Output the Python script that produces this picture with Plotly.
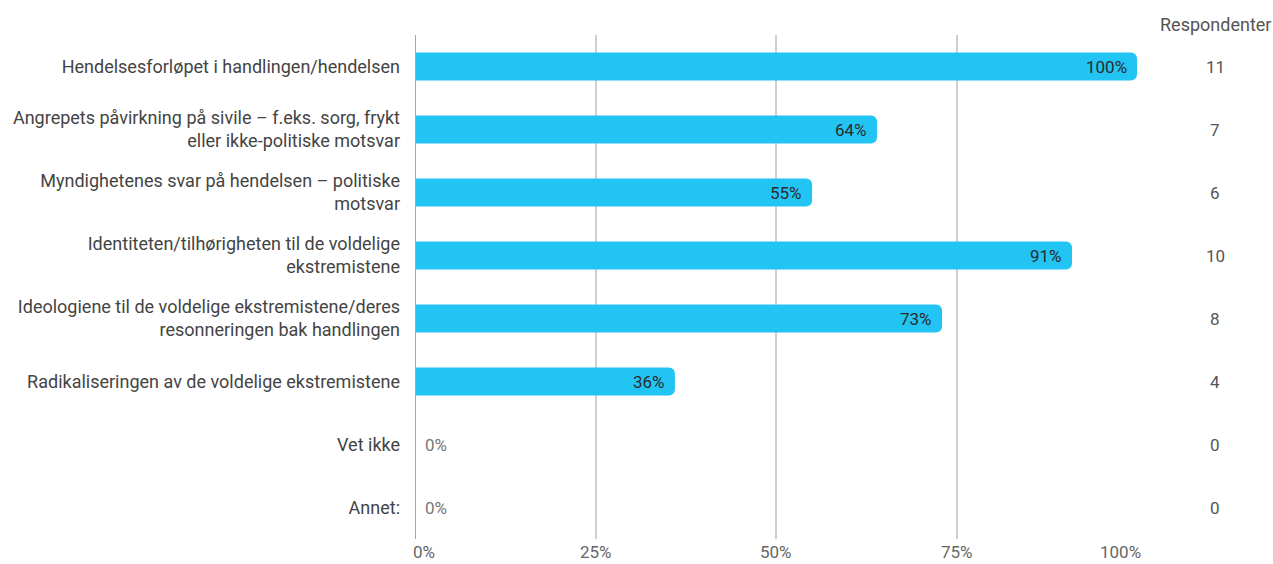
import plotly.graph_objects as go

categories = [
    "Hendelsesforløpet i handlingen/hendelsen",
    "Angrepets påvirkning på sivile – f.eks. sorg, frykt<br>eller ikke-politiske motsvar",
    "Myndighetenes svar på hendelsen – politiske<br>motsvar",
    "Identiteten/tilhørigheten til de voldelige<br>ekstremistene",
    "Ideologiene til de voldelige ekstremistene/deres<br>resonneringen bak handlingen",
    "Radikaliseringen av de voldelige ekstremistene",
    "Vet ikke",
    "Annet:",
]
percent = [100, 64, 55, 91, 73, 36, 0, 0]
respondents = [11, 7, 6, 10, 8, 4, 0, 0]
x_ticks = [0, 25, 50, 75, 100]
x_tick_labels = ["0%", "25%", "50%", "75%", "100%"]

FONT = "Roboto, Arial, sans-serif"
BAR = "#22C4F4"
TEXT = "#444444"

plot_left, plot_right = 415, 1137
plot_top, plot_bottom = 35, 539
W, H = 1273, 564


def px_to_paper_x(px):
    return (px - plot_left) / (plot_right - plot_left)


def px_to_paper_y(px):
    return (plot_bottom - px) / (plot_bottom - plot_top)


fig = go.Figure()
fig.add_trace(go.Bar(
    y=categories,
    x=percent,
    orientation="h",
    marker=dict(color=BAR, line=dict(width=0)),
    hoverinfo="skip",
))

annotations = []
for cat, p, n in zip(categories, percent, respondents):
    inside = p > 0
    annotations.append(dict(
        x=p, y=cat, xref="x", yref="y",
        text=f"{p}%",
        showarrow=False,
        xanchor="right" if inside else "left",
        xshift=-8 if inside else 8,
        font=dict(family=FONT, size=17, color="#2b2b2b" if inside else "#777"),
    ))
    annotations.append(dict(
        x=px_to_paper_x(1215), y=cat, xref="paper", yref="y",
        text=str(n), showarrow=False, xanchor="center",
        font=dict(family=FONT, size=17, color="#555"),
    ))

# x-axis tick labels; the outermost ones are kept inside the grid span
for i, (v, lab) in enumerate(zip(x_ticks, x_tick_labels)):
    if i == 0:
        anchor, shift = "left", -3
    elif i == len(x_ticks) - 1:
        anchor, shift = "right", 5
    else:
        anchor, shift = "center", 0
    annotations.append(dict(
        x=v, y=0, xref="x", yref="paper",
        text=lab, showarrow=False, xanchor=anchor, yanchor="bottom",
        xshift=shift, yshift=-(H - plot_bottom) + 1, borderpad=0,
        font=dict(family=FONT, size=17, color="#666"),
    ))

annotations.append(dict(
    x=px_to_paper_x(1215), y=px_to_paper_y(24),
    xref="paper", yref="paper", yanchor="middle",
    text="Respondenter", showarrow=False, xanchor="center",
    font=dict(family=FONT, size=18, color="#555"),
))

fig.update_layout(
    width=W, height=H,
    margin=dict(l=plot_left, r=W - plot_right, t=plot_top, b=H - plot_bottom),
    paper_bgcolor="white", plot_bgcolor="white",
    font=dict(family=FONT, size=17, color=TEXT),
    showlegend=False,
    bargap=0.555,
    barcornerradius=6,
    annotations=annotations,
    xaxis=dict(
        range=[0, 100], tickvals=x_ticks,
        showticklabels=False,
        showgrid=True, gridcolor="#cfcfcf", gridwidth=1.5,
        zeroline=False, showline=False, ticks="",
        automargin=False,
        fixedrange=True,
    ),
    yaxis=dict(
        categoryorder="array", categoryarray=categories,
        autorange="reversed",
        showgrid=False, zeroline=False, ticks="",
        showline=False,
        automargin=False,
        ticklabelstandoff=14,
        tickfont=dict(family=FONT, size=18, color=TEXT),
        fixedrange=True,
    ),
    shapes=[dict(
        type="line", xref="x", yref="paper", x0=0, x1=0, y0=0, y1=1,
        line=dict(color="#a8a8a8", width=2), layer="above",
    )],
)

fig.write_html("out.html", config={"displayModeBar": False})
